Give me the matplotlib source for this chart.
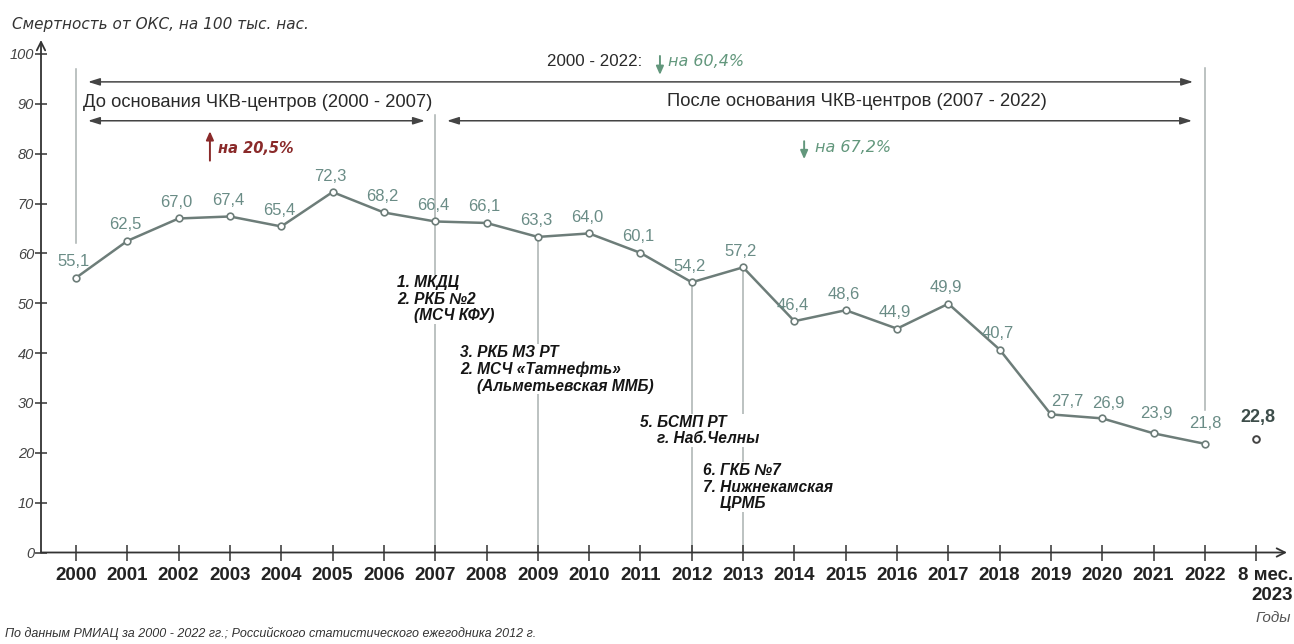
import matplotlib
matplotlib.use('Agg')
import matplotlib.pyplot as plt
from matplotlib.transforms import ScaledTranslation

# ---- data ----
years = ['2000', '2001', '2002', '2003', '2004', '2005', '2006', '2007',
         '2008', '2009', '2010', '2011', '2012', '2013', '2014', '2015',
         '2016', '2017', '2018', '2019', '2020', '2021', '2022']
mortality = [55.1, 62.5, 67.0, 67.4, 65.4, 72.3, 68.2, 66.4,
             66.1, 63.3, 64.0, 60.1, 54.2, 57.2, 46.4, 48.6,
             44.9, 49.9, 40.7, 27.7, 26.9, 23.9, 21.8]
partial_label = '8 мес.\n2023'
partial_value = 22.8
y_ticks = [0, 10, 20, 30, 40, 50, 60, 70, 80, 90, 100]

# years when regional vascular centres opened, with their names
centre_years = ['2007', '2009', '2012', '2013']
centre_notes = [
    '1. МКДЦ\n2. РКБ №2\n    (МСЧ КФУ)',
    '3. РКБ МЗ РТ\n2. МСЧ «Татнефть»\n    (Альметьевская ММБ)',
    '5. БСМП РТ\n    г. Наб.Челны',
    '6. ГКБ №7\n7. Нижнекамская\n    ЦРМБ',
]
change_total = 'на 60,4%'
change_before = 'на 20,5%'
change_after = 'на 67,2%'

# ---- styling ----
plt.rcParams['font.family'] = ['Liberation Sans', 'DejaVu Sans']
WIDE = ['DejaVu Sans']
LINE = '#6d7d79'
LABEL = '#6a8c86'
GREEN = '#62977c'
RED = '#8a2a2a'
GUIDE = '#a9b1b0'
DARK = '#2a2a2a'

W, H = 1294, 644
fig = plt.figure(figsize=(W / 100, H / 100), dpi=100)
ax = fig.add_axes([41 / W, (H - 552.5) / H, (1287 - 41) / W, (552.5 - 40) / H])
ax.set_xlim(-0.682, 23.6)
ax.set_ylim(0, 102.8)
for s in ax.spines.values():
    s.set_visible(False)

xs = list(range(len(years)))
x_part = len(years)
pos = {y: i for i, y in enumerate(years)}

# axes with arrow tips
for tip in [(1, 0), (0, 1)]:
    ax.annotate('', xy=tip, xytext=(0, 0), xycoords='axes fraction',
                arrowprops=dict(arrowstyle='->,head_length=0.6,head_width=0.3',
                                color='#333333', lw=1.3, shrinkA=0, shrinkB=0))

ax.set_xticks(xs + [x_part])
ax.set_xticklabels(years + [partial_label], fontsize=13.5, fontweight='bold',
                   color='#222222', linespacing=1.2)
ax.tick_params(axis='x', direction='inout', length=11, width=1.1,
               color='#333333', pad=5)
last = ax.get_xticklabels()[-1]
last.set_multialignment('right')
last.set_transform(last.get_transform() +
                   ScaledTranslation(0.09, 0, fig.dpi_scale_trans))

ax.set_yticks(y_ticks)
ax.set_yticklabels([str(v) for v in y_ticks], fontsize=10.5, fontstyle='italic',
                   color='#444444')
ax.tick_params(axis='y', direction='inout', length=8, width=1.1,
               color='#333333', pad=1)

# vertical guide lines
ax.plot([0, 0], [62.1, 97.0], color=GUIDE, lw=1.1, zorder=1)
ax.plot([pos['2022']] * 2, [28.6, 97.2], color=GUIDE, lw=1.1, zorder=1)
ax.plot([pos['2007']] * 2, [0, 87.8], color=GUIDE, lw=1.1, zorder=1)
for yr in centre_years[1:]:
    i = pos[yr]
    ax.plot([i, i], [0, mortality[i]], color=GUIDE, lw=1.1, zorder=1)

# main series
ax.plot(xs, mortality, color=LINE, lw=1.8, marker='o', ms=4.8,
        mfc='white', mec=LINE, mew=1.2, zorder=4)
ax.plot([x_part], [partial_value], linestyle='none', marker='o', ms=4.8,
        mfc='white', mec='#444444', mew=1.4, zorder=4)

label_shift = {19: (16, 13), 20: (6, 15), 21: (3, 20), 22: (0, 20)}
for i, v in enumerate(mortality):
    dx, dy = label_shift.get(i, (-2, 16))
    ax.annotate(f'{v:.1f}'.replace('.', ','), (i, v), xytext=(dx, dy),
                textcoords='offset pixels', ha='center', va='center',
                fontsize=12, color=LABEL, zorder=5)
ax.annotate(f'{partial_value:.1f}'.replace('.', ','), (x_part, partial_value),
            xytext=(2, 21), textcoords='offset pixels', ha='center', va='center',
            fontsize=13, fontweight='bold', color='#3d4d4a', zorder=5)

# period arrows
arrow_kw = dict(arrowstyle='<|-|>,head_length=0.7,head_width=0.22',
                color='#444444', lw=1.1, shrinkA=0, shrinkB=0)
ax.annotate('', xy=(21.77, 94.4), xytext=(0.234, 94.4), arrowprops=arrow_kw)
ax.annotate('', xy=(6.80, 86.6), xytext=(0.234, 86.6), arrowprops=arrow_kw)
ax.annotate('', xy=(21.75, 86.6), xytext=(7.23, 86.6), arrowprops=arrow_kw)

ax.text(11.03, 98.4, '2000 - 2022:', ha='right', va='center', fontsize=12.2,
        color=DARK)
ax.text(11.54, 98.4, change_total, ha='left', va='center', fontsize=11.5,
        fontstyle='italic', color=GREEN, family=WIDE)
ax.text(0.14, 90.2, 'До основания ЧКВ-центров (2000 - 2007)', ha='left',
        va='center', fontsize=13.2, color=DARK)
ax.text(11.52, 90.4, 'После основания ЧКВ-центров (2007 - 2022)', ha='left',
        va='center', fontsize=13.2, color=DARK)
ax.text(2.77, 81.1, change_before, ha='left', va='center', fontsize=10.5,
        fontstyle='italic', fontweight='bold', color=RED, family=WIDE)
ax.text(14.41, 81.3, change_after, ha='left', va='center', fontsize=11.5,
        fontstyle='italic', color=GREEN, family=WIDE)

small_arrow = dict(arrowstyle='-|>,head_length=0.5,head_width=0.22',
                   lw=1.4, shrinkA=0, shrinkB=0)
ax.annotate('', xy=(11.38, 95.8), xytext=(11.38, 99.6),
            arrowprops=dict(color=GREEN, **small_arrow))
ax.annotate('', xy=(2.61, 84.5), xytext=(2.61, 78.6),
            arrowprops=dict(color=RED, **small_arrow))
ax.annotate('', xy=(14.19, 78.9), xytext=(14.19, 82.5),
            arrowprops=dict(color=GREEN, **small_arrow))

# centre notes
note_pos = [(6.26, 55.6), (7.49, 41.6), (10.99, 27.6), (12.22, 17.9)]
for (nx, ny), txt in zip(note_pos, centre_notes):
    ax.text(nx, ny, txt, ha='left', va='top', fontsize=11.2,
            fontweight='bold', fontstyle='italic', color='#151515',
            linespacing=1.12, zorder=3,
            bbox=dict(boxstyle='square,pad=0.05', fc='white', ec='none'))

# titles and notes
fig.text(12 / W, 1 - 25 / H, 'Смертность от ОКС, на 100 тыс. нас.',
         ha='left', va='center', fontsize=11, fontstyle='italic',
         color='#333333', family=WIDE)
fig.text(1291 / W, 1 - 618 / H, 'Годы', ha='right', va='center', fontsize=11,
         fontstyle='italic', color='#555555')
fig.text(5 / W, 1 - 633 / H,
         'По данным РМИАЦ за 2000 - 2022 гг.; Российского статистического ежегодника 2012 г.',
         ha='left', va='center', fontsize=9.0, fontstyle='italic', color='#333333')

fig.savefig('out.png', dpi=100, facecolor='white')
